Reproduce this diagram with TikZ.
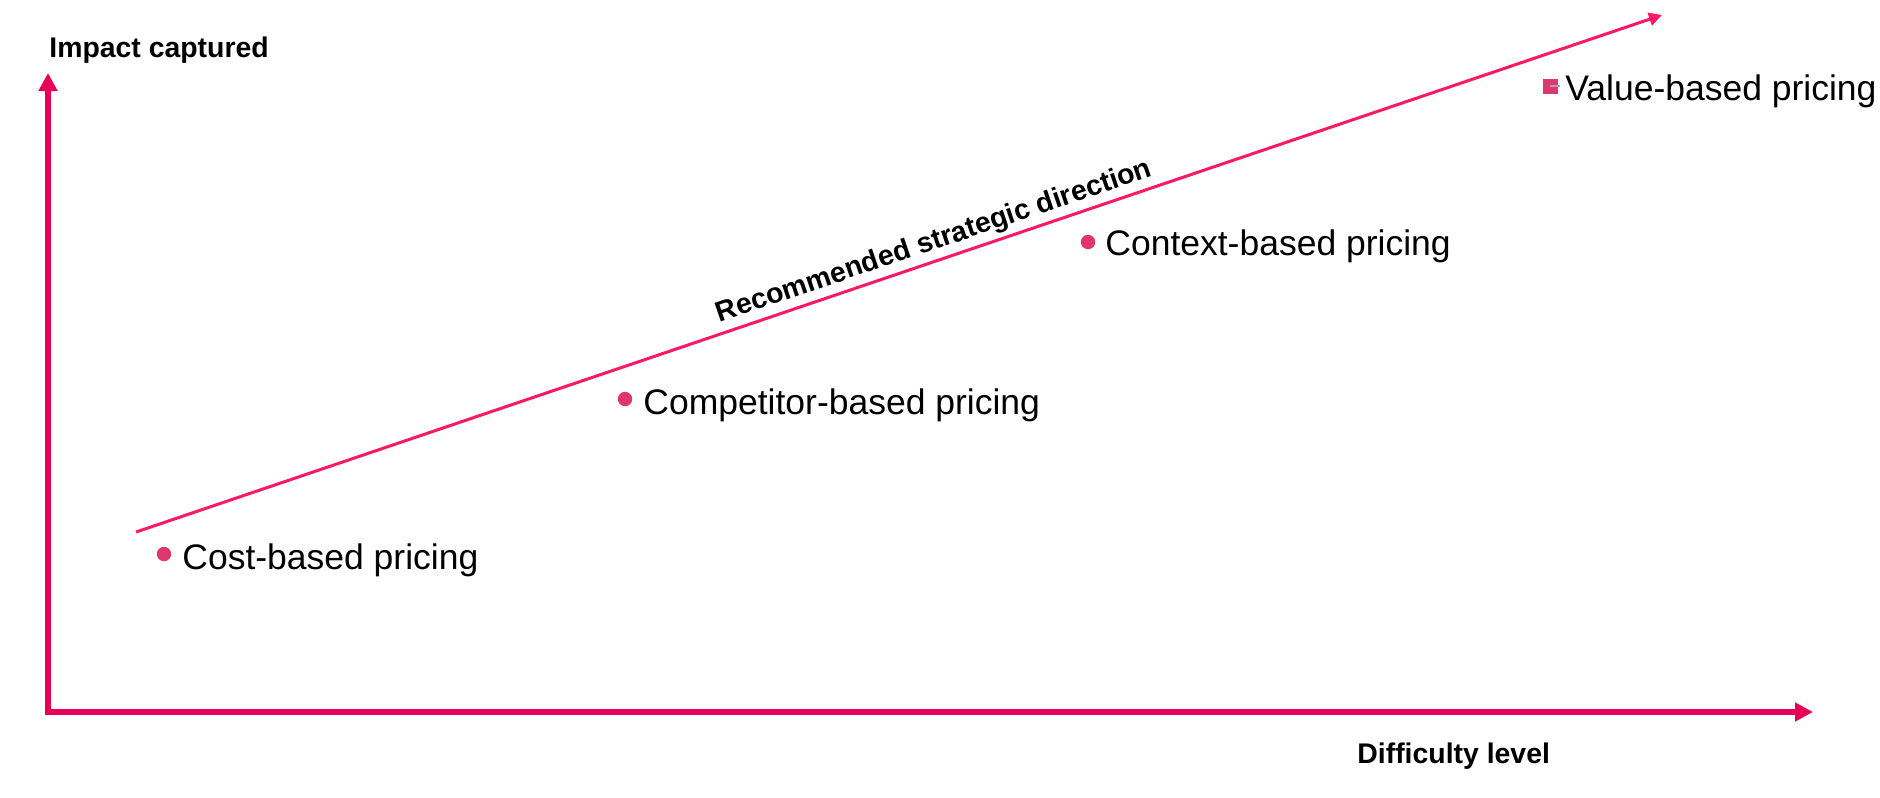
\documentclass[tikz,border=0pt]{standalone}
\usepackage{fontspec}
\setmainfont{Liberation Sans}
\usetikzlibrary{arrows.meta}
\definecolor{axispink}{RGB}{232,0,88}
\definecolor{linepink}{RGB}{255,24,104}
\definecolor{dotpink}{RGB}{224,54,110}
\tikzset{
  axisline/.style={axispink, line width=3pt,
    {Triangle[length=9pt,width=9pt]}-{Triangle[length=9pt,width=9pt]}},
  dirline/.style={linepink, line width=1.5pt, -{Triangle[length=6.5pt,width=6.5pt]}},
  pricedot/.style={circle, fill=dotpink, inner sep=0pt, minimum size=7.2pt},
  pricesq/.style={rectangle, fill=dotpink, inner sep=0pt, minimum size=7.5pt},
  pricelbl/.style={anchor=base west, inner sep=0pt, font=\fontsize{17.75}{20}\selectfont},
  axislbl/.style={anchor=base west, inner sep=0pt, font=\fontsize{14.2}{17}\selectfont\bfseries},
}
\begin{document}
\begin{tikzpicture}[x=0.5pt, y=-0.5pt]
    \useasboundingbox (0,0) rectangle (1880,798);
    \coordinate (origin) at (48,712);
    \coordinate (ytip) at (48,73);
    \coordinate (xtip) at (1813,712);
    \draw[axisline] (ytip) -- (origin) -- (xtip);
    \node[axislbl] (ylbl) at (49,57) {Impact captured};
    \node[axislbl] (xlbl) at (1357,763) {Difficulty level};

    \coordinate (dirstart) at (136,532);
    \coordinate (dirend) at (1662,15);
    \draw[dirline] (dirstart) -- node[pos=0.527, sloped, above, inner sep=1.75pt, text=black,
        font=\fontsize{14.2}{17}\selectfont\bfseries] (dirlbl) {Recommended strategic direction} (dirend);

    \node[pricedot] (costdot) at (164,554) {};
    \node[pricelbl] (costlbl) at (182,569) {Cost-based pricing};
    \node[pricedot] (compdot) at (625,399) {};
    \node[pricelbl] (complbl) at (643,414) {Competitor-based pricing};
    \node[pricedot] (ctxdot) at (1088,242) {};
    \node[pricelbl] (ctxlbl) at (1105,255) {Context-based pricing};
    \node[pricesq] (valdot) at (1550,86) {};
    \draw[gray!70, line width=0.75pt] (valdot.center) -- ([xshift=1pt]valdot.east);
    \node[pricelbl] (vallbl) at (1565,100) {Value-based pricing};
\end{tikzpicture}
\end{document}
